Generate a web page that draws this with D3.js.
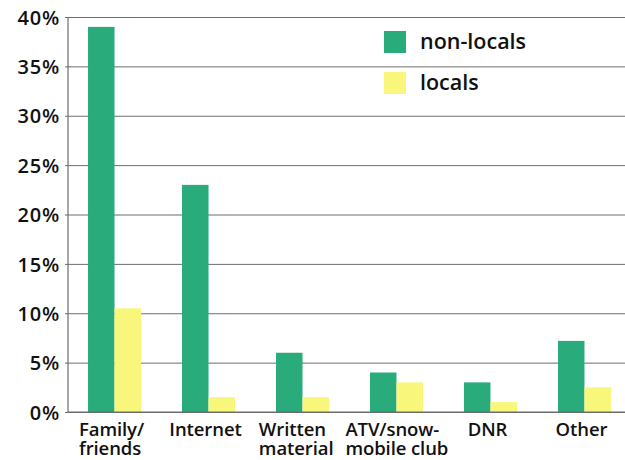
<!DOCTYPE html>
<html>
<head>
<meta charset="utf-8">
<script src="https://cdn.jsdelivr.net/npm/d3@7/dist/d3.min.js"></script>
<style>
  html, body { margin: 0; padding: 0; background: #ffffff; }
  svg { display: block; }
  text { font-family: "Open Sans", "Noto Sans", sans-serif; fill: #111; }
</style>
</head>
<body>
<svg id="chart" width="625" height="460"></svg>
<script>
// Sources of information, share of respondents (%)
const categories = [
  ["Family/", "friends"],
  ["Internet"],
  ["Written", "material"],
  ["ATV/snow-", "mobile club"],
  ["DNR"],
  ["Other"]
];
const seriesNames = ["non-locals", "locals"];
const nonLocals = [39, 23, 6, 4, 3, 7.2];
const locals = [10.5, 1.5, 1.5, 3, 1, 2.5];
const yTicks = [0, 5, 10, 15, 20, 25, 30, 35, 40];
const colors = ["#2aab7c", "#f8f77c"];

const svg = d3.select("#chart");
const W = 625, H = 460;
const x0 = 68, x1 = W;
const yBottom = 412, yTop = 17;

const y = d3.scaleLinear().domain([0, 40]).range([yBottom, yTop]);
const x = d3.scaleBand()
  .domain(d3.range(categories.length))
  .range([x0, 631])
  .paddingInner(0.436)
  .paddingOuter(0.213);
const xs = d3.scaleBand().domain([0, 1]).range([0, x.bandwidth()]);

// Horizontal gridlines with short ticks
const yAxis = d3.axisLeft(y)
  .tickValues(yTicks)
  .tickSize(-(x1 - x0))
  .tickFormat(d => d + "%");
const gy = svg.append("g").attr("transform", `translate(${x0},0)`).call(yAxis);
gy.select(".domain").remove();
gy.selectAll(".tick line").attr("stroke", "#6d6d6d").attr("stroke-width", 1)
  .attr("x1", -3);
gy.selectAll(".tick text")
  .attr("x", -8)
  .attr("dy", "0.36em")
  .style("font-size", "20px")
  .style("font-weight", "600")
  .style("letter-spacing", "0.8px")
  .attr("fill", "#111");

// Vertical axis line
svg.append("line")
  .attr("x1", x0).attr("x2", x0)
  .attr("y1", y(40)).attr("y2", y(0))
  .attr("stroke", "#6d6d6d").attr("stroke-width", 1.2);

// Bars
const series = [nonLocals, locals];
series.forEach((vals, si) => {
  svg.append("g").selectAll("rect")
    .data(vals)
    .join("rect")
    .attr("x", (d, i) => x(i) + xs(si))
    .attr("width", xs.bandwidth())
    .attr("y", d => y(d))
    .attr("height", d => y(0) - y(d))
    .attr("fill", colors[si]);
});

// Baseline
svg.append("line")
  .attr("x1", x0).attr("x2", x1)
  .attr("y1", y(0)).attr("y2", y(0))
  .attr("stroke", "#6d6d6d").attr("stroke-width", 1.2);

// Category labels: lines left-aligned, block centred under each group,
// then neighbouring blocks nudged apart so they keep a clear gap
const lab = svg.append("g");
const blocks = categories.map((lines, i) => {
  const g = lab.append("g");
  const texts = lines.map((ln, k) => g.append("text")
    .attr("x", 0).attr("y", 436 + k * 19)
    .style("font-size", "18.5px")
    .style("font-weight", "600")
    .style("letter-spacing", "-0.1px")
    .text(ln));
  const w = d3.max(texts, t => t.node().getComputedTextLength());
  const cx = x(i) + x.bandwidth() / 2 - 3;
  return { g, w, left: cx - w / 2 };
});
const minGap = 12;
for (let i = 1; i < blocks.length; i++) {
  const a = blocks[i - 1], b = blocks[i];
  const gap = b.left - (a.left + a.w);
  if (gap < minGap) {
    const push = (minGap - gap) / 2;
    a.left -= push;
    b.left += push;
  }
}
blocks.forEach(b => b.g.attr("transform", `translate(${b.left},0)`));

// Legend
const legend = svg.append("g").attr("transform", "translate(384,31)");
seriesNames.forEach((name, i) => {
  const row = legend.append("g").attr("transform", `translate(0,${i * 41})`);
  row.append("rect").attr("width", 22).attr("height", 22).attr("fill", colors[i]);
  row.append("text")
    .attr("x", 36).attr("y", 18)
    .style("font-size", "21.5px")
    .style("font-weight", "600")
    .text(name);
});
</script>
</body>
</html>
